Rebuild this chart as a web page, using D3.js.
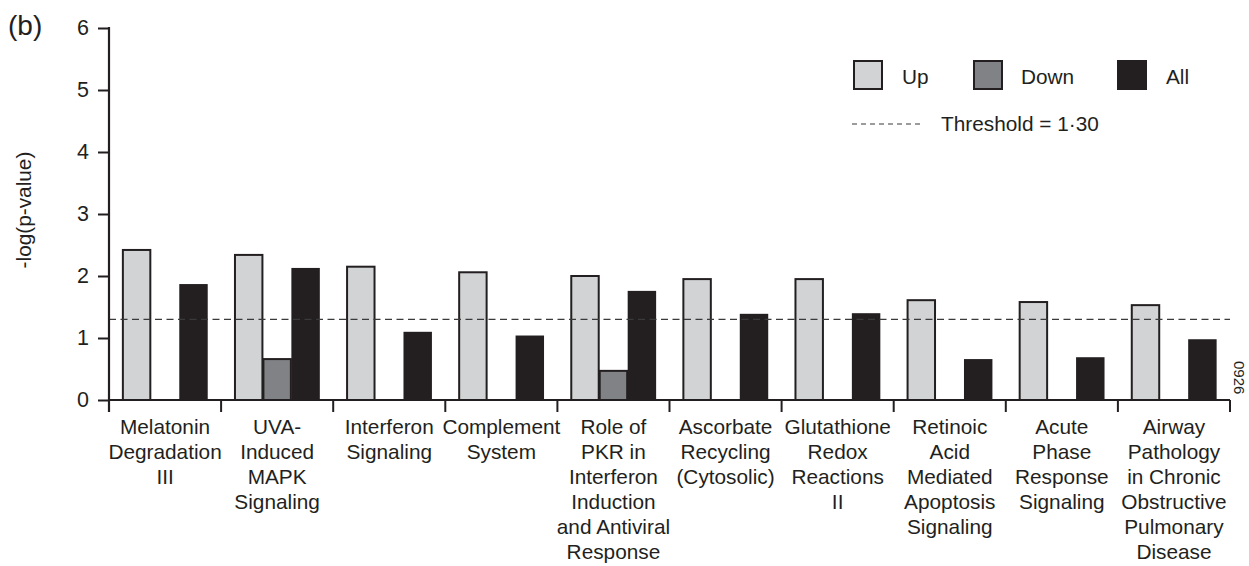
<!DOCTYPE html>
<html>
<head>
<meta charset="utf-8">
<script src="https://cdn.jsdelivr.net/npm/d3@7"></script>
<style>
  html, body { margin: 0; padding: 0; background: #fff; }
  svg { display: block; font-family: "Liberation Sans", Arial, Helvetica, sans-serif; }
</style>
</head>
<body>
<svg id="chart" width="1249" height="566"></svg>
<script>
// Canonical pathways, one label line per array entry
const categories = [
  ["Melatonin", "Degradation", "III"],
  ["UVA-", "Induced", "MAPK", "Signaling"],
  ["Interferon", "Signaling"],
  ["Complement", "System"],
  ["Role of", "PKR in", "Interferon", "Induction", "and Antiviral", "Response"],
  ["Ascorbate", "Recycling", "(Cytosolic)"],
  ["Glutathione", "Redox", "Reactions", "II"],
  ["Retinoic", "Acid", "Mediated", "Apoptosis", "Signaling"],
  ["Acute", "Phase", "Response", "Signaling"],
  ["Airway", "Pathology", "in Chronic", "Obstructive", "Pulmonary", "Disease"]
];

const series = ["Up", "Down", "All"];

// -log(p-value) per pathway; null where the series has no bar
const upValues   = [2.42, 2.34, 2.15, 2.06, 2.00, 1.95, 1.95, 1.61, 1.58, 1.53];
const downValues = [null, 0.66, null, null, 0.47, null, null, null, null, null];
const allValues  = [1.87, 2.13, 1.10, 1.04, 1.76, 1.39, 1.40, 0.66, 0.69, 0.98];

const yTicks = [0, 1, 2, 3, 4, 5, 6];
const threshold = 1.30;
const thresholdLabel = "Threshold = 1·30";

(function () {
  const fills = { Up: "#d1d3d4", Down: "#808285", All: "#231f20" };
  const ink = "#231f20";
  const fontSize = "20.8px";

  const svg = d3.select("#chart");
  const plotLeft = 109, plotRight = 1230, plotTop = 28, plotBottom = 400;

  const keys = categories.map((c, i) => "c" + i);
  const x = d3.scaleBand().domain(keys).range([plotLeft, plotRight]).padding(0);
  const xs = d3.scaleBand().domain(series).range([0, x.bandwidth()])
    .paddingInner(0).paddingOuter(0.47);
  const y = d3.scaleLinear().domain([0, 6]).range([plotBottom, plotTop]);

  const valuesBySeries = { Up: upValues, Down: downValues, All: allValues };
  const rows = [];
  keys.forEach((k, i) => {
    series.forEach(s => {
      const v = valuesBySeries[s][i];
      if (v != null) rows.push({ key: k, series: s, value: v });
    });
  });

  // bars
  svg.append("g").selectAll("rect").data(rows).join("rect")
    .attr("x", d => x(d.key) + xs(d.series) + (d.series === "All" ? 0 : 0.5))
    .attr("y", d => y(d.value))
    .attr("width", d => xs.bandwidth() - (d.series === "All" ? 0 : 1))
    .attr("height", d => y(0) - y(d.value))
    .attr("fill", d => fills[d.series])
    .attr("stroke", ink)
    .attr("stroke-width", d => d.series === "All" ? 0 : 2);

  // threshold line
  svg.append("line")
    .attr("x1", plotLeft).attr("x2", plotRight)
    .attr("y1", y(threshold)).attr("y2", y(threshold))
    .attr("stroke", "#3a3a3a").attr("stroke-width", 1.4)
    .attr("stroke-dasharray", "7,4.5");

  // y axis
  const yAxis = svg.append("g")
    .attr("transform", `translate(${plotLeft},0)`)
    .call(d3.axisLeft(y).tickValues(yTicks).tickSize(11).tickPadding(9).tickFormat(d3.format("d")));
  yAxis.select(".domain").remove();
  yAxis.selectAll(".tick line").attr("stroke", ink).attr("stroke-width", 2);
  yAxis.selectAll(".tick text").attr("fill", ink).style("font-size", "21.5px")
    .style("font-family", "'Liberation Sans', Arial, sans-serif");
  svg.append("line")
    .attr("x1", plotLeft).attr("x2", plotLeft).attr("y1", plotTop - 1).attr("y2", plotBottom + 12)
    .attr("stroke", ink).attr("stroke-width", 2.2);

  // x axis baseline and boundary ticks
  svg.append("line")
    .attr("x1", plotLeft).attr("x2", plotRight).attr("y1", plotBottom).attr("y2", plotBottom)
    .attr("stroke", ink).attr("stroke-width", 2.2);
  const bounds = keys.map(k => x(k)).concat([plotRight]);
  svg.append("g").selectAll("line").data(bounds.slice(1)).join("line")
    .attr("x1", d => d).attr("x2", d => d)
    .attr("y1", plotBottom).attr("y2", plotBottom + 12)
    .attr("stroke", ink).attr("stroke-width", 2);

  // category labels
  const labels = svg.append("g").attr("fill", ink).style("font-size", fontSize);
  categories.forEach((lines, i) => {
    const cx = x(keys[i]) + x.bandwidth() / 2;
    const t = labels.append("text").attr("x", cx).attr("y", 434).attr("text-anchor", "middle");
    lines.forEach((ln, j) => {
      t.append("tspan").attr("x", cx).attr("dy", j === 0 ? 0 : 25).text(ln);
    });
  });

  // y axis title
  svg.append("text")
    .attr("transform", "translate(31,210) rotate(-90)")
    .attr("text-anchor", "middle").attr("fill", ink)
    .style("font-size", fontSize).text("-log(p-value)");

  // panel letter
  svg.append("text").attr("x", 8).attr("y", 35).attr("fill", ink)
    .style("font-size", "28px").text("(b)");

  // figure code on the right edge
  svg.append("text")
    .attr("transform", "translate(1234,361) rotate(90)")
    .attr("fill", ink).style("font-size", "15px").text("0926");

  // legend
  const legend = svg.append("g");
  const legendItems = [
    { s: "Up", bx: 853, tx: 902 },
    { s: "Down", bx: 973, tx: 1021 },
    { s: "All", bx: 1117, tx: 1166 }
  ];
  legendItems.forEach(it => {
    const solid = it.s === "All";
    legend.append("rect")
      .attr("x", it.bx + (solid ? 0 : 1)).attr("y", solid ? 60 : 61)
      .attr("width", solid ? 30 : 28).attr("height", solid ? 30 : 28)
      .attr("fill", fills[it.s]).attr("stroke", ink)
      .attr("stroke-width", solid ? 0 : 2);
    legend.append("text").attr("x", it.tx).attr("y", 84).attr("fill", ink)
      .style("font-size", fontSize).text(it.s);
  });
  legend.append("line")
    .attr("x1", 852).attr("x2", 923).attr("y1", 124).attr("y2", 124)
    .attr("stroke", "#3a3a3a").attr("stroke-width", 1.2)
    .attr("stroke-dasharray", "5,4");
  legend.append("text").attr("x", 941).attr("y", 131).attr("fill", ink)
    .style("font-size", fontSize).text(thresholdLabel);
})();
</script>
</body>
</html>
